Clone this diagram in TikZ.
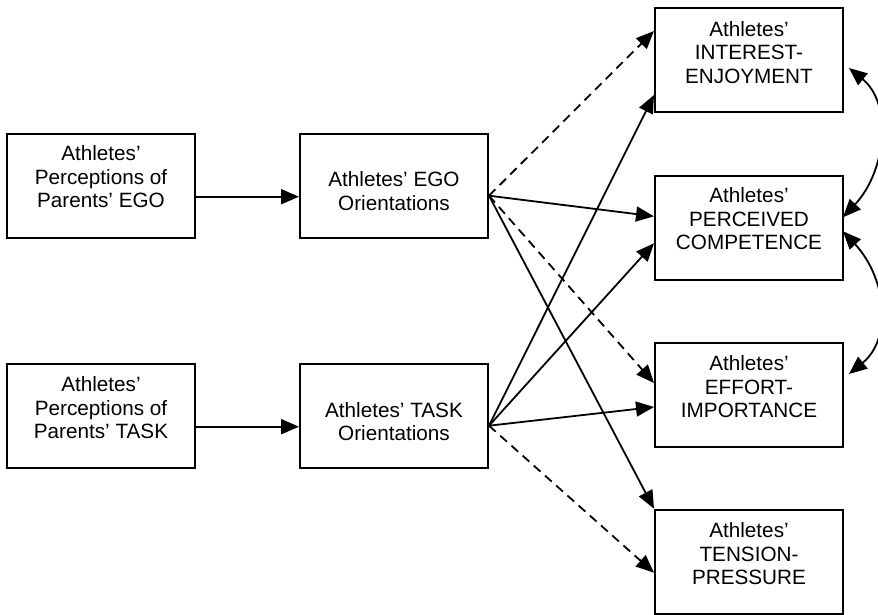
\documentclass[tikz,border=0pt]{standalone}
\usepackage{fontspec}
\setmainfont{Liberation Sans}
\usetikzlibrary{arrows.meta}
\begin{document}
\begin{tikzpicture}[x=1pt,y=-1pt,
  box/.style={draw,line width=2pt,minimum width=188pt,minimum height=104pt,inner sep=0pt},
  txt/.style={inner sep=0pt,align=center,font=\fontsize{20.7}{23.5}\selectfont},
  conn/.style={line width=1.8pt,-{Triangle[length=18pt,width=15pt]}},
  dconn/.style={conn,dash pattern=on 9pt off 6pt},
  both/.style={line width=1.8pt,{Triangle[length=18pt,width=15pt]}-{Triangle[length=18pt,width=15pt]}}]
\useasboundingbox (0,0) rectangle (878,615);
% boxes
\node[box] (pe) at (101,185.7) {};
\node[box] (eo) at (394,185.7) {};
\node[box] (pt) at (101,415.7) {};
\node[box] (to) at (394,415.7) {};
\node[box] (ie) at (749,60) {};
\node[box] (pc) at (749,228.3) {};
\node[box] (ei) at (749,395) {};
\node[box] (tp) at (749,561.7) {};
% texts
\node[txt] (pet) at (101,177) {Athletes’\\Perceptions of\\Parents’ EGO};
\node[txt] (eot) at (394,191) {Athletes’ EGO\\Orientations};
\node[txt] (ptt) at (101,408) {Athletes’\\Perceptions of\\Parents’ TASK};
\node[txt] (tot) at (394,421.5) {Athletes’ TASK\\Orientations};
\node[txt] (iet) at (749,52.5) {Athletes’\\INTEREST-\\ENJOYMENT};
\node[txt] (pct) at (749,219) {Athletes’\\PERCEIVED\\COMPETENCE};
\node[txt] (eit) at (749,387) {Athletes’\\EFFORT-\\IMPORTANCE};
\node[txt] (tpt) at (749,554) {Athletes’\\TENSION-\\PRESSURE};
% parent -> orientation
\draw[conn] ([yshift=-11pt]pe.east) -- ([yshift=-11pt]eo.west);
\draw[conn] ([yshift=-11pt]pt.east) -- ([yshift=-11pt]to.west);
% EGO orientation outputs
\draw[dconn] ([yshift=-10pt]eo.east) -- ([yshift=29pt]ie.west);
\draw[conn]  ([yshift=-10pt]eo.east) -- ([yshift=12pt]pc.west);
\draw[dconn] ([yshift=-10pt]eo.east) -- ([yshift=12pt]ei.west);
\draw[conn]  ([yshift=-10pt]eo.east) -- (tp.north west);
% TASK orientation outputs
\draw[conn]  ([yshift=-10pt]to.east) -- ([yshift=-35pt]ie.west);
\draw[conn]  ([yshift=-10pt]to.east) -- ([yshift=-15pt]pc.west);
\draw[conn]  ([yshift=-10pt]to.east) -- ([yshift=-12pt]ei.west);
\draw[dconn] ([yshift=-10pt]to.east) -- ([yshift=-11pt]tp.west);
% correlations
\draw[both] ([xshift=5pt,yshift=-8pt]ie.east) .. controls +(44,36) and +(43,-46) .. ([xshift=-1pt,yshift=11pt]pc.east);
\draw[both] ([xshift=-1pt,yshift=-3pt]pc.east) .. controls +(43,46) and +(44,-36) .. ([xshift=5pt,yshift=21pt]ei.east);
\end{tikzpicture}
\end{document}
